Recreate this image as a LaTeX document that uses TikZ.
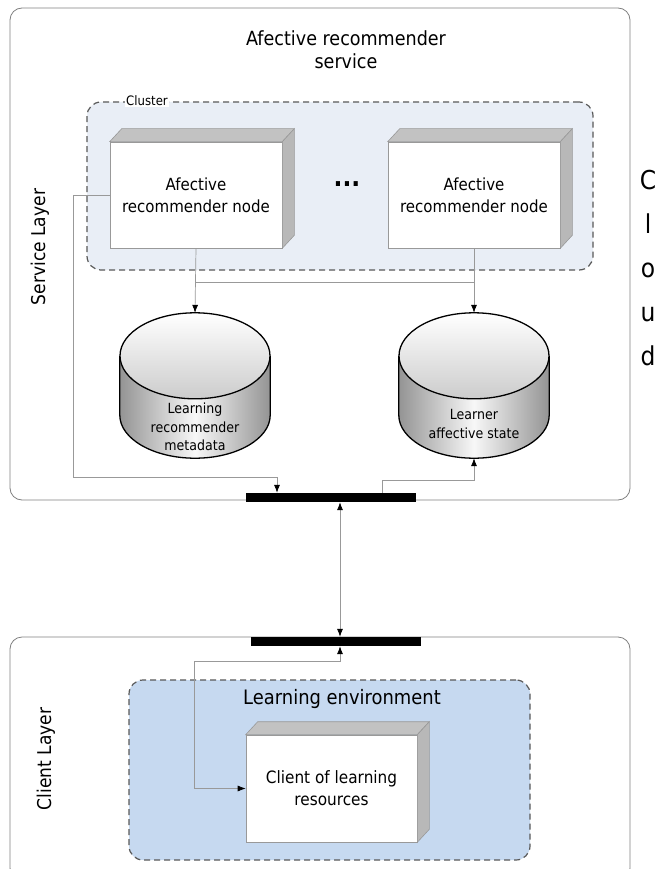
\documentclass[tikz,border=0pt]{standalone}
\usepackage{fontspec}
\setmainfont{DejaVu Sans}[FakeStretch=0.9]
\usetikzlibrary{arrows.meta,calc}
\definecolor{clusterbg}{HTML}{E9EEF6}
\definecolor{envbg}{HTML}{C6D9F0}
\newcommand\depthbox[1]{%
  \filldraw[fill=black!24,draw=black!40,line width=0.6pt] (#1.north west) -- ([shift={(12pt,13pt)}]#1.north west) -- ([shift={(12pt,13pt)}]#1.north east) -- (#1.north east) -- cycle;
  \filldraw[fill=black!28,draw=black!40,line width=0.6pt] (#1.north east) -- ([shift={(12pt,13pt)}]#1.north east) -- ([shift={(12pt,13pt)}]#1.south east) -- (#1.south east) -- cycle;}
\newcommand\dbcyl[1]{%
  \path[left color=black!42,right color=black!42,middle color=black!3]
    ([yshift=-43pt]#1.north west) -- ([yshift=43pt]#1.south west)
    .. controls ([yshift=19.3pt]#1.south west) and ([xshift=-41.4pt]#1.south) .. (#1.south)
    .. controls ([xshift=41.4pt]#1.south) and ([yshift=19.3pt]#1.south east) .. ([yshift=43pt]#1.south east)
    -- ([yshift=-43pt]#1.north east) -- cycle;
  \draw[line width=1.3pt]
    ([yshift=-43pt]#1.north west) -- ([yshift=43pt]#1.south west)
    .. controls ([yshift=19.3pt]#1.south west) and ([xshift=-41.4pt]#1.south) .. (#1.south)
    .. controls ([xshift=41.4pt]#1.south) and ([yshift=19.3pt]#1.south east) .. ([yshift=43pt]#1.south east)
    -- ([yshift=-43pt]#1.north east);
  \draw[line width=1.3pt,top color=white,bottom color=black!20] ([yshift=-43pt]#1.north) ellipse [x radius=75pt, y radius=43pt];}
\begin{document}
\begin{tikzpicture}[x=1pt,y=-1pt,
  layerbox/.style={draw=black!50,line width=0.8pt,rounded corners=12pt,inner sep=0pt},
  groupbox/.style={draw=black!65,dash pattern=on 6pt off 4pt,line width=1.2pt,rounded corners=14pt,inner sep=0pt},
  front/.style={draw=black!40,fill=white,line width=0.6pt,minimum width=172pt,minimum height=106pt,inner sep=0pt,align=center,font=\fontsize{16.7}{22}\selectfont},
  bar/.style={fill=black,minimum width=170pt,minimum height=9pt,inner sep=0pt},
  cylbox/.style={minimum width=150pt,minimum height=145pt,inner sep=0pt},
  cyltext/.style={align=center,font=\fontsize{14}{18.5}\selectfont},
  conn/.style={draw=black!40,line width=0.7pt},
  tipend/.style={-{Latex[length=8pt,width=6pt,color=black]}},
  tipboth/.style={{Latex[length=8pt,width=6pt,color=black]}-{Latex[length=8pt,width=6pt,color=black]}}]
\useasboundingbox (0,0) rectangle (660,869);
\clip (0,0) rectangle (660,869);
\fill[white] (0,0) rectangle (660,869);
% layers
\node[layerbox,minimum width=620pt,minimum height=492pt] (svc) at (320,254) {};
\node[layerbox,minimum width=620pt,minimum height=243pt] (cli) at (320,758.5) {};
\node[font=\fontsize{19.5}{23}\selectfont,align=center] (title) at (346,50) {Afective recommender\\service};
\node[rotate=90,font=\fontsize{19}{23}\selectfont] (sl) at (40,247) {Service Layer};
\node[rotate=90,font=\fontsize{19}{23}\selectfont] (cl) at (46,759) {Client Layer};
\node[font=\fontsize{26}{44}\selectfont,align=center] (cloud) at (648,268) {C\\l\\o\\u\\d};
% cluster
\node[groupbox,fill=clusterbg,minimum width=506pt,minimum height=168pt] (cluster) at (340,186) {};
\node[fill=white,inner sep=1pt,font=\fontsize{13}{15}\selectfont] (clab) at (147,101) {Cluster};
\node[front] (n1) at (196,195) {Afective\\recommender node};
\depthbox{n1}
\node[front] (n2) at (474,195) {Afective\\recommender node};
\depthbox{n2}
\node[font=\bfseries\fontsize{26}{28}\selectfont] (dots) at (347,184) {...};
% databases
\node[cylbox] (c1) at (195,385.5) {};
\dbcyl{c1}
\node[cyltext] (c1t) at (195,427) {Learning\\recommender\\metadata};
\node[cylbox] (c2) at (474,385.5) {};
\dbcyl{c2}
\node[cyltext] (c2t) at (474,424) {Learner\\affective state};
% learning environment
\node[groupbox,fill=envbg,minimum width=401pt,minimum height=180pt] (env) at (329.5,770) {};
\node[font=\fontsize{19.9}{23}\selectfont] (envt) at (342,699) {Learning environment};
\node[front,minimum width=171pt,minimum height=107pt,font=\fontsize{17}{22}\selectfont] (client) at (331.5,788.5) {Client of learning\\resources};
\depthbox{client}
% bars
\node[bar] (bar1) at (331,497.5) {};
\node[bar] (bar2) at (336,641.5) {};
% connectors
\draw[conn,tipend] (n1.south) -- (c1.north);
\draw[conn,tipend] (n2.south) -- (c2.north);
\draw[conn] (196,282) -- (474,282);
\draw[conn,tipend] (n1.west) -- (73,195) -- (73,477) -- (277,477) -- (277,0 |- bar1.north);
\draw[conn,tipend] (382,0 |- bar1.north) -- (382,480) -- (474,480) -- (c2.south);
\draw[conn,tipboth] (340,0 |- bar1.south) -- (340,0 |- bar2.north);
\draw[conn,tipboth] (340,0 |- bar2.south) -- (340,661) -- (194,661) -- (194,788.5) -- (client.west);
\end{tikzpicture}
\end{document}
